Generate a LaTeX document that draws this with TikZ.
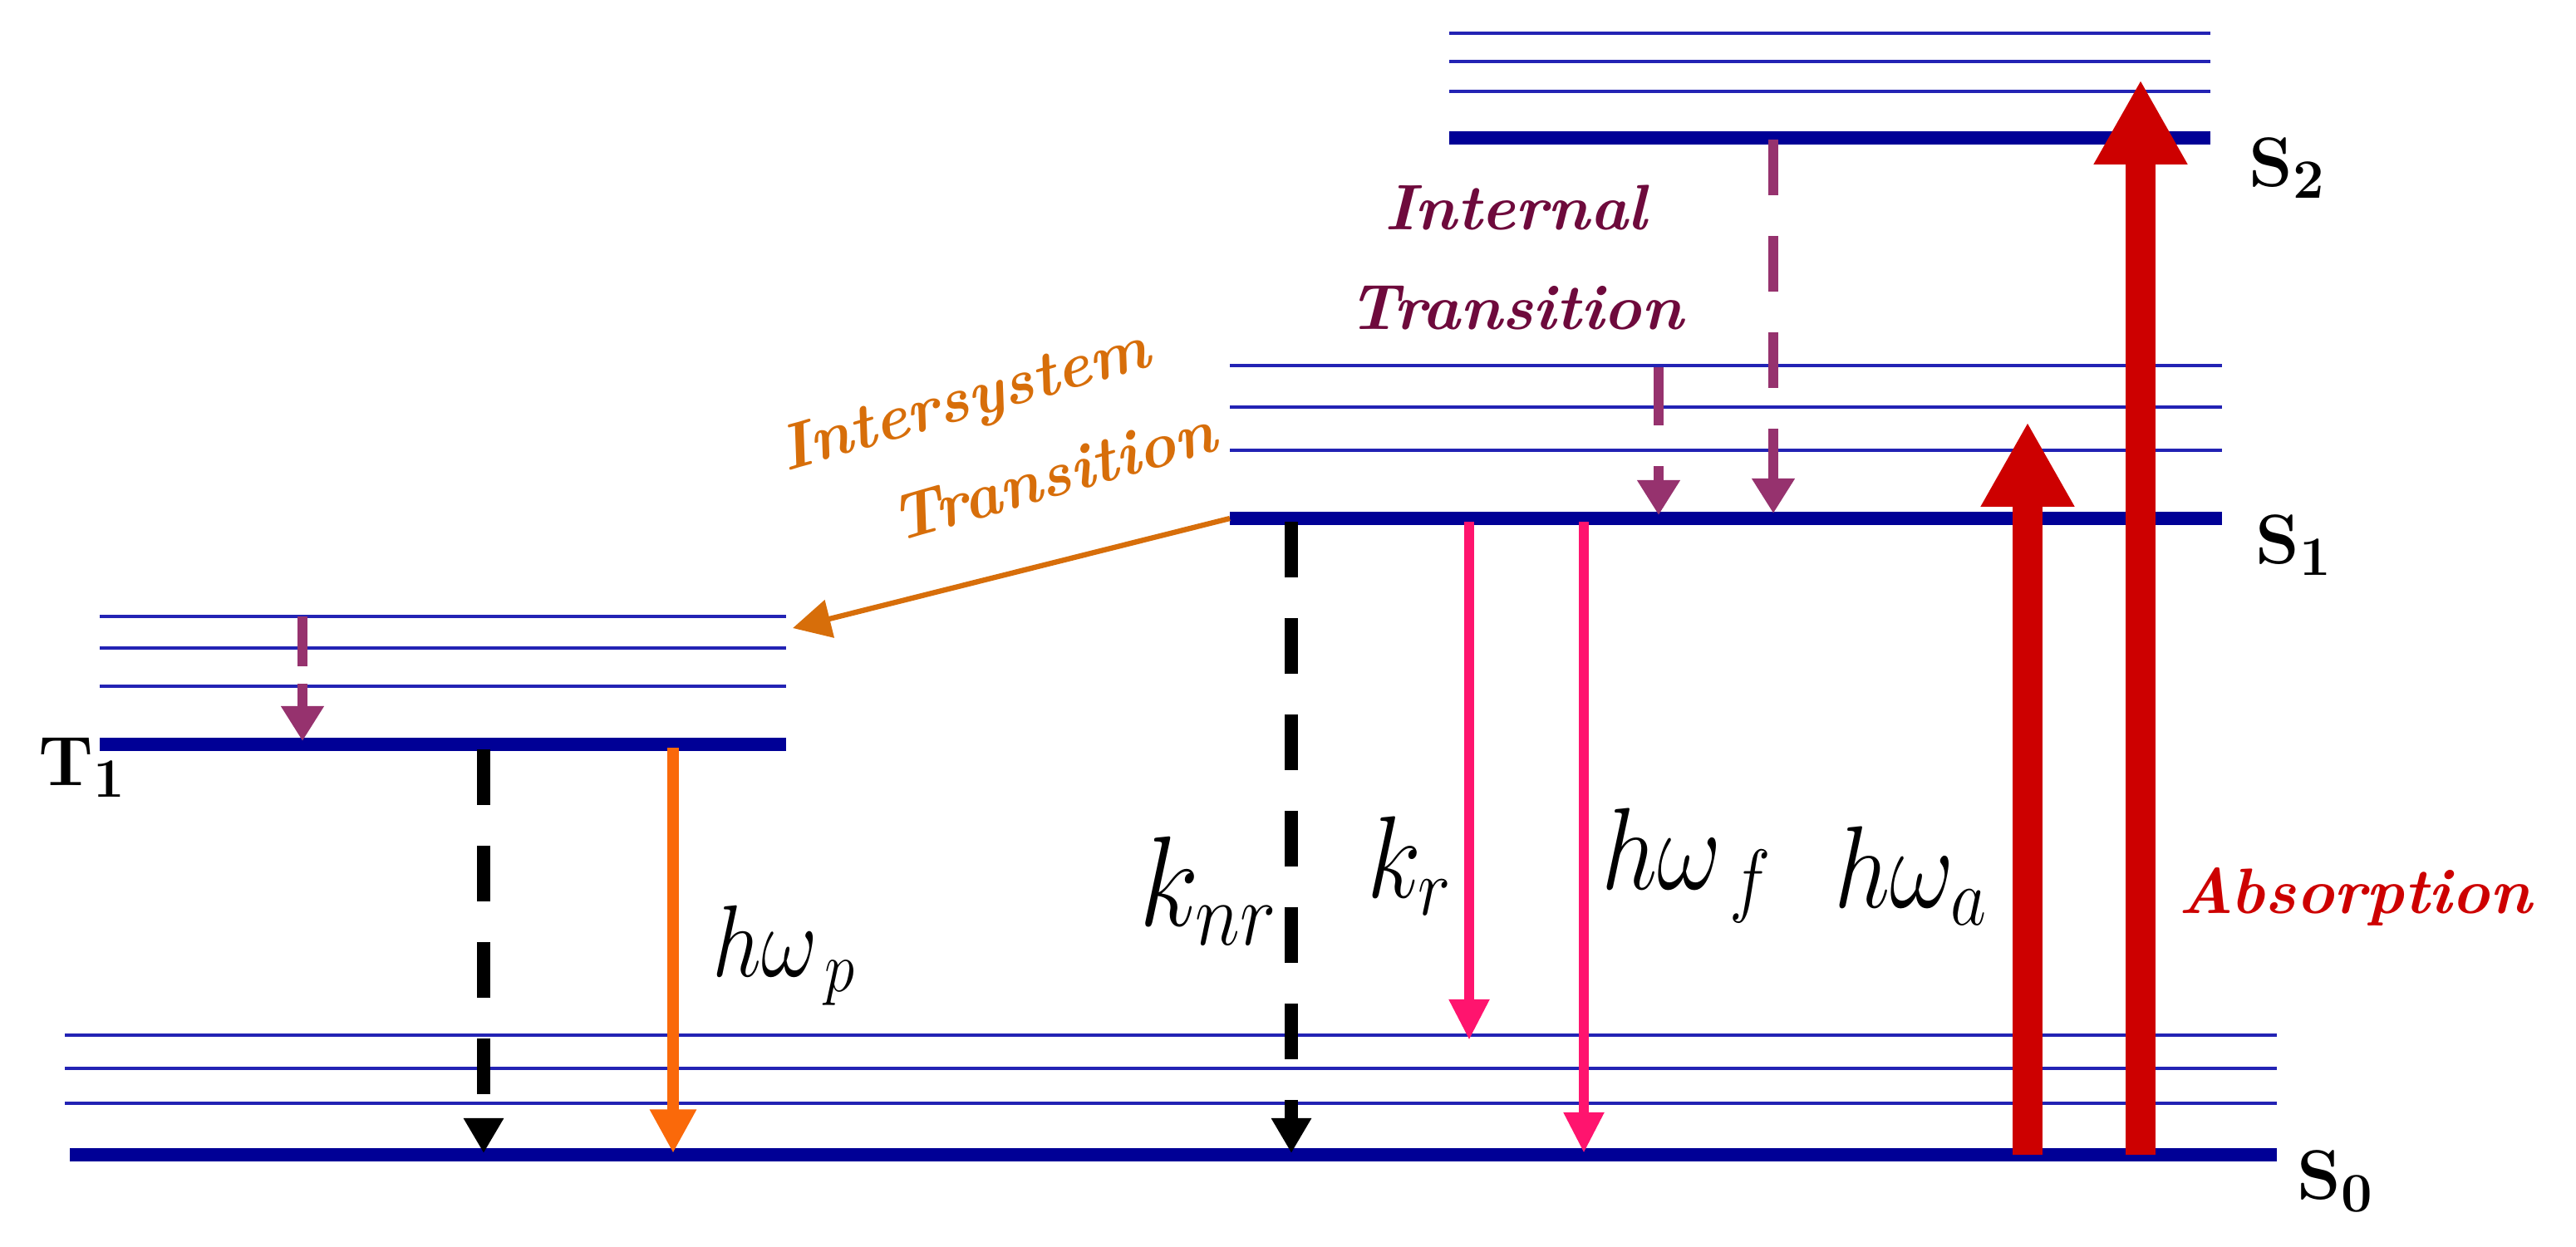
\RequirePackage{fix-cm}
\documentclass[tikz,border=0pt]{standalone}
\usepackage{fontspec}
\usetikzlibrary{arrows.meta}
\definecolor{lvl}{RGB}{0,0,150}
\definecolor{lvlthin}{RGB}{35,35,180}
\definecolor{ared}{RGB}{205,0,0}
\definecolor{apink}{RGB}{255,20,110}
\definecolor{orng}{RGB}{250,105,10}
\definecolor{torng}{RGB}{215,110,10}
\definecolor{purp}{RGB}{150,50,110}
\definecolor{tpurp}{RGB}{110,10,60}
\begin{document}
\begin{tikzpicture}[x=0.02cm,y=-0.02cm,
  thick lvl/.style={lvl,line width=4.5pt},
  thin lvl/.style={lvlthin,line width=1.2pt},
  lbl/.style={font=\bfseries\fontsize{24}{24}\selectfont,anchor=west,inner sep=0pt},
  mth/.style={font=\fontsize{40}{40}\selectfont,xscale=0.85,inner sep=0pt},
  ttl/.style={font=\bfseries\itshape\fontsize{22}{34}\selectfont,align=center,inner sep=0pt},
  pdash/.style={purp,line width=3.5pt,dash pattern=on 19pt off 14pt,-{Triangle[length=12pt,width=14pt]}},
  bdash/.style={black,line width=4.4pt,dash pattern=on 19pt off 14pt,-{Triangle[length=12pt,width=13pt]}},
  big/.style={ared,line width=10pt,-{Triangle[length=29pt,width=30pt]}}]
\useasboundingbox (0,0) rectangle (1550,750);
% S0
\foreach \y in {623,643,664} \draw[thin lvl] (39,\y) -- (1370,\y);
\draw[thick lvl] (42,695) -- (1370,695);
% T1
\foreach \y in {371,390,413} \draw[thin lvl] (60,\y) -- (473,\y);
\draw[thick lvl] (60,448) -- (473,448);
% S1
\foreach \y in {220,245,271} \draw[thin lvl] (740,\y) -- (1337,\y);
\draw[thick lvl] (740,312) coordinate (s1a) -- (1337,312);
% S2
\foreach \y in {20,37,55} \draw[thin lvl] (872,\y) -- (1330,\y);
\draw[thick lvl] (872,83) -- (1330,83);
% labels
\node[lbl] (S2) at (1353,101) {S\textsubscript{\fontsize{19}{19}\selectfont 2}};
\node[lbl] (S1) at (1357,328) {S\textsubscript{\fontsize{19}{19}\selectfont 1}};
\node[lbl] (S0) at (1382,711) {S\textsubscript{\fontsize{19}{19}\selectfont 0}};
\node[lbl] (T1) at (23,462) {T\textsubscript{\fontsize{19}{19}\selectfont 1}};
% absorption
\coordinate (a1s) at (1288,695); \coordinate (a1e) at (1288,48);
\coordinate (a2s) at (1220,695); \coordinate (a2e) at (1220,254);
\draw[big] (a1s) -- (a1e);
\draw[big] (a2s) -- (a2e);
% fluorescence
\coordinate (f1s) at (884,314); \coordinate (f1e) at (884,626);
\coordinate (f2s) at (953,314); \coordinate (f2e) at (953,694);
\draw[apink,line width=3.5pt,-{Triangle[length=14pt,width=13pt]}] (f1s) -- (f1e);
\draw[apink,line width=3.5pt,-{Triangle[length=14pt,width=13pt]}] (f2s) -- (f2e);
% nonradiative
\coordinate (n1s) at (777,314); \coordinate (n1e) at (777,694);
\coordinate (n2s) at (291,451); \coordinate (n2e) at (291,694);
\draw[bdash] (n1s) -- (n1e);
\draw[bdash] (n2s) -- (n2e);
% phosphorescence
\coordinate (p1s) at (405,450); \coordinate (p1e) at (405,694);
\draw[orng,line width=4pt,-{Triangle[length=15pt,width=15pt]}] (p1s) -- (p1e);
% ISC
\coordinate (i1e) at (477,378);
\draw[torng,line width=1.8pt,-{Triangle[length=13pt,width=13pt]}] (s1a) -- (i1e);
% internal conversion
\coordinate (c1s) at (1067,84); \coordinate (c1e) at (1067,309);
\coordinate (c2s) at (998,221); \coordinate (c2e) at (998,310);
\coordinate (c3s) at (182,371); \coordinate (c3e) at (182,446);
\draw[pdash] (c1s) -- (c1e);
\draw[purp,line width=3.5pt,dash pattern=on 20pt off 14pt,-{Triangle[length=12pt,width=14pt]}] (c2s) -- (c2e);
\draw[purp,line width=3.5pt,dash pattern=on 17pt off 6pt,-{Triangle[length=12pt,width=14pt]}] (c3s) -- (c3e);
% texts
\node[ttl,tpurp] (it) at (912,155) {Internal\\ Transition};
\node[ttl,torng,rotate=16] (ist) at (588,268) {Intersystem\\ \hspace*{2em}Transition};
\node[ttl,ared] (ab) at (1417,540) {Absorption};
\node[mth] (ha) at (1150,527) {$h\omega_{a}$};
\node[mth] (hf) at (1015,521) {$h\omega_{\,f}$};
\node[mth] (kr) at (848,521) {$k_{r}$};
\node[mth,font=\fontsize{44}{44}\selectfont] (knr) at (727,536) {$k_{nr}$};
\node[mth,font=\fontsize{35}{35}\selectfont] (hp) at (472,575) {$h\omega_{\,p}$};
\end{tikzpicture}
\end{document}
